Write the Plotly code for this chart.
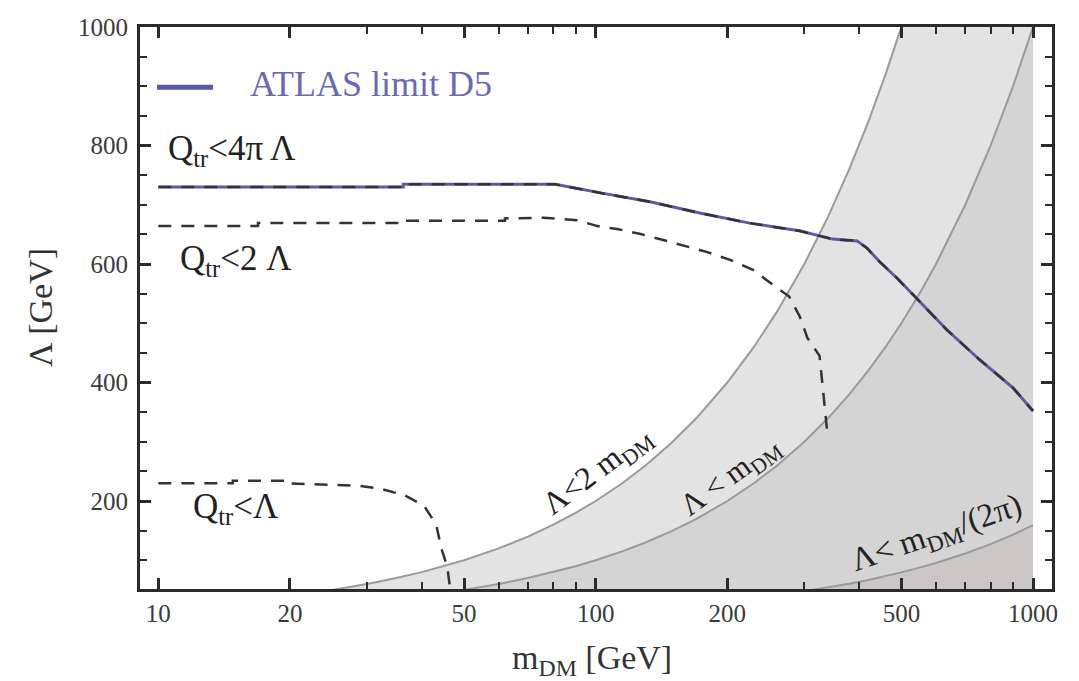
import numpy as np
import plotly.graph_objects as go

# ATLAS D5 limit on Lambda vs dark-matter mass (same curve as Q_tr < 4*pi*Lambda)
atlas_m = [10, 36.3, 36.3, 80.8, 102.6, 133, 173, 225, 292, 348, 396, 417, 447, 489, 532, 635, 756, 900, 1000]
atlas_lam = [730, 730, 734.5, 734.5, 720, 705, 686, 669, 656, 642, 639, 627, 603, 576, 548, 489, 438, 391, 352]

# Truncated limit, Q_tr < 2 Lambda
q2_m = [10, 16.9, 16.9, 36, 36, 62, 62, 76, 90.6, 101, 112, 126, 142, 162, 180, 203, 229, 251,
        277, 293, 305, 325, 329, 333, 337, 339]
q2_lam = [664, 664, 669, 669, 673, 673, 677, 678, 674, 664, 659, 651, 641, 629, 620, 607, 590, 568,
          545, 511, 475, 445, 406, 364, 322, 311]

# Truncated limit, Q_tr < Lambda
q1_m = [10, 14.8, 14.8, 19.5, 19.5, 28.4, 32.1, 36.5, 40.5, 43.2, 44.3, 45.8, 46.6]
q1_lam = [230, 230, 234, 234, 230, 226, 221, 210, 192, 160, 122, 88, 45]

# Mass samples for the EFT-validity boundaries
m_grid = [20, 25, 30, 35, 40, 45, 50, 60, 70, 80, 90, 100, 115, 130, 150, 170, 200, 230, 260, 300,
          340, 380, 420, 460, 500, 550, 600, 700, 800, 900, 1000]

x_ticks = [10, 20, 50, 100, 200, 500, 1000]
x_minor = [30, 40, 60, 70, 80, 90, 300, 400, 600, 700, 800, 900]
y_ticks = [200, 400, 600, 800, 1000]
y_minor = [100, 150, 250, 300, 350, 450, 500, 550, 650, 700, 750, 850, 900, 950]

SERIF = "Liberation Serif, Times New Roman, serif"
INK = "#2b2b2b"

lam_2m = [2 * m for m in m_grid]
lam_m = [m for m in m_grid]
lam_m2pi = [m / (2 * np.pi) for m in m_grid]

fig = go.Figure()

for lam, fc in [(lam_2m, "#e3e3e3"), (lam_m, "#d4d4d4"), (lam_m2pi, "#cbc7c7")]:
    fig.add_trace(go.Scatter(
        x=m_grid, y=lam, mode="lines", fill="tozeroy", fillcolor=fc,
        line=dict(color="#9a9a9a", width=2), hoverinfo="skip", showlegend=False))

fig.add_trace(go.Scatter(x=atlas_m, y=atlas_lam, mode="lines",
                         line=dict(color="#5a5aa8", width=3), showlegend=False))
fig.add_trace(go.Scatter(x=atlas_m, y=atlas_lam, mode="lines",
                         line=dict(color="#333333", width=2.5, dash="13px,10px"), showlegend=False))
fig.add_trace(go.Scatter(x=q2_m, y=q2_lam, mode="lines",
                         line=dict(color="#333333", width=2.5, dash="13px,10px"), showlegend=False))
fig.add_trace(go.Scatter(x=q1_m, y=q1_lam, mode="lines",
                         line=dict(color="#333333", width=2.5, dash="13px,10px"), showlegend=False))

axis_common = dict(
    showline=True, linewidth=3, linecolor=INK, mirror="ticks",
    ticks="inside", ticklen=11, tickwidth=2.5, tickcolor=INK,
    showgrid=False, zeroline=False,
    tickfont=dict(family=SERIF, size=25, color="#3a3a3a"),
)

fig.update_xaxes(
    type="log", range=[np.log10(9.08), np.log10(1105)],
    tickmode="array", tickvals=x_ticks, ticktext=[str(v) for v in x_ticks],
    minor=dict(tickmode="array", tickvals=x_minor, ticks="inside", ticklen=7,
               tickwidth=2, tickcolor=INK),
    **axis_common)
fig.update_yaxes(
    range=[51.5, 1000],
    tickmode="array", tickvals=y_ticks, ticktext=[str(v) for v in y_ticks],
    minor=dict(tickmode="array", tickvals=y_minor, ticks="inside", ticklen=7,
               tickwidth=2, tickcolor=INK),
    ticklabelstandoff=4,
    **axis_common)

def note(text, m, lam, size=32, angle=0, anchor="left", color="#222222"):
    fig.add_annotation(x=np.log10(m), y=lam, xref="x", yref="y", text=text, showarrow=False,
                       xanchor=anchor, yanchor="middle", textangle=angle,
                       font=dict(family=SERIF, size=size, color=color))

note("Q<sub>tr</sub>&lt;4π Λ", 10.4, 792, size=35)
note("Q<sub>tr</sub>&lt;2 Λ", 11.1, 606, size=35)
note("Q<sub>tr</sub>&lt;Λ", 11.9, 188, size=35)
note("Λ&lt;2 m<sub>DM</sub>", 101, 249, size=32, angle=-37, anchor="center")
note("Λ &lt; m<sub>DM</sub>", 204, 240, size=31, angle=-36, anchor="center")
note("Λ&lt; m<sub>DM</sub>/(2π)", 603, 143, size=33, angle=-19, anchor="center")

# Legend entry for the ATLAS curve
fig.add_shape(type="line", xref="paper", yref="paper", x0=0.0186, x1=0.080, y0=0.893, y1=0.893,
              line=dict(color="#5a5aa8", width=5))
fig.add_annotation(x=0.118, y=0.898, xref="paper", yref="paper", text="ATLAS limit D5",
                   showarrow=False, xanchor="left", yanchor="middle",
                   font=dict(family=SERIF, size=36, color="#6a6ab4"))

# Axis titles
fig.add_annotation(x=-0.1096, y=0.5, xref="paper", yref="paper", text="Λ [GeV]", textangle=-90,
                   showarrow=False, xanchor="center", yanchor="middle",
                   font=dict(family=SERIF, size=34, color="#333333"))
fig.add_annotation(x=0.4956, y=-0.126, xref="paper", yref="paper", text="m<sub>DM</sub> [GeV]",
                   showarrow=False, xanchor="center", yanchor="middle",
                   font=dict(family=SERIF, size=34, color="#333333"))

fig.update_layout(
    width=1079, height=681,
    margin=dict(l=140, r=27, t=27, b=92),
    paper_bgcolor="white", plot_bgcolor="white",
    showlegend=False,
)

fig.write_html("out.html")
